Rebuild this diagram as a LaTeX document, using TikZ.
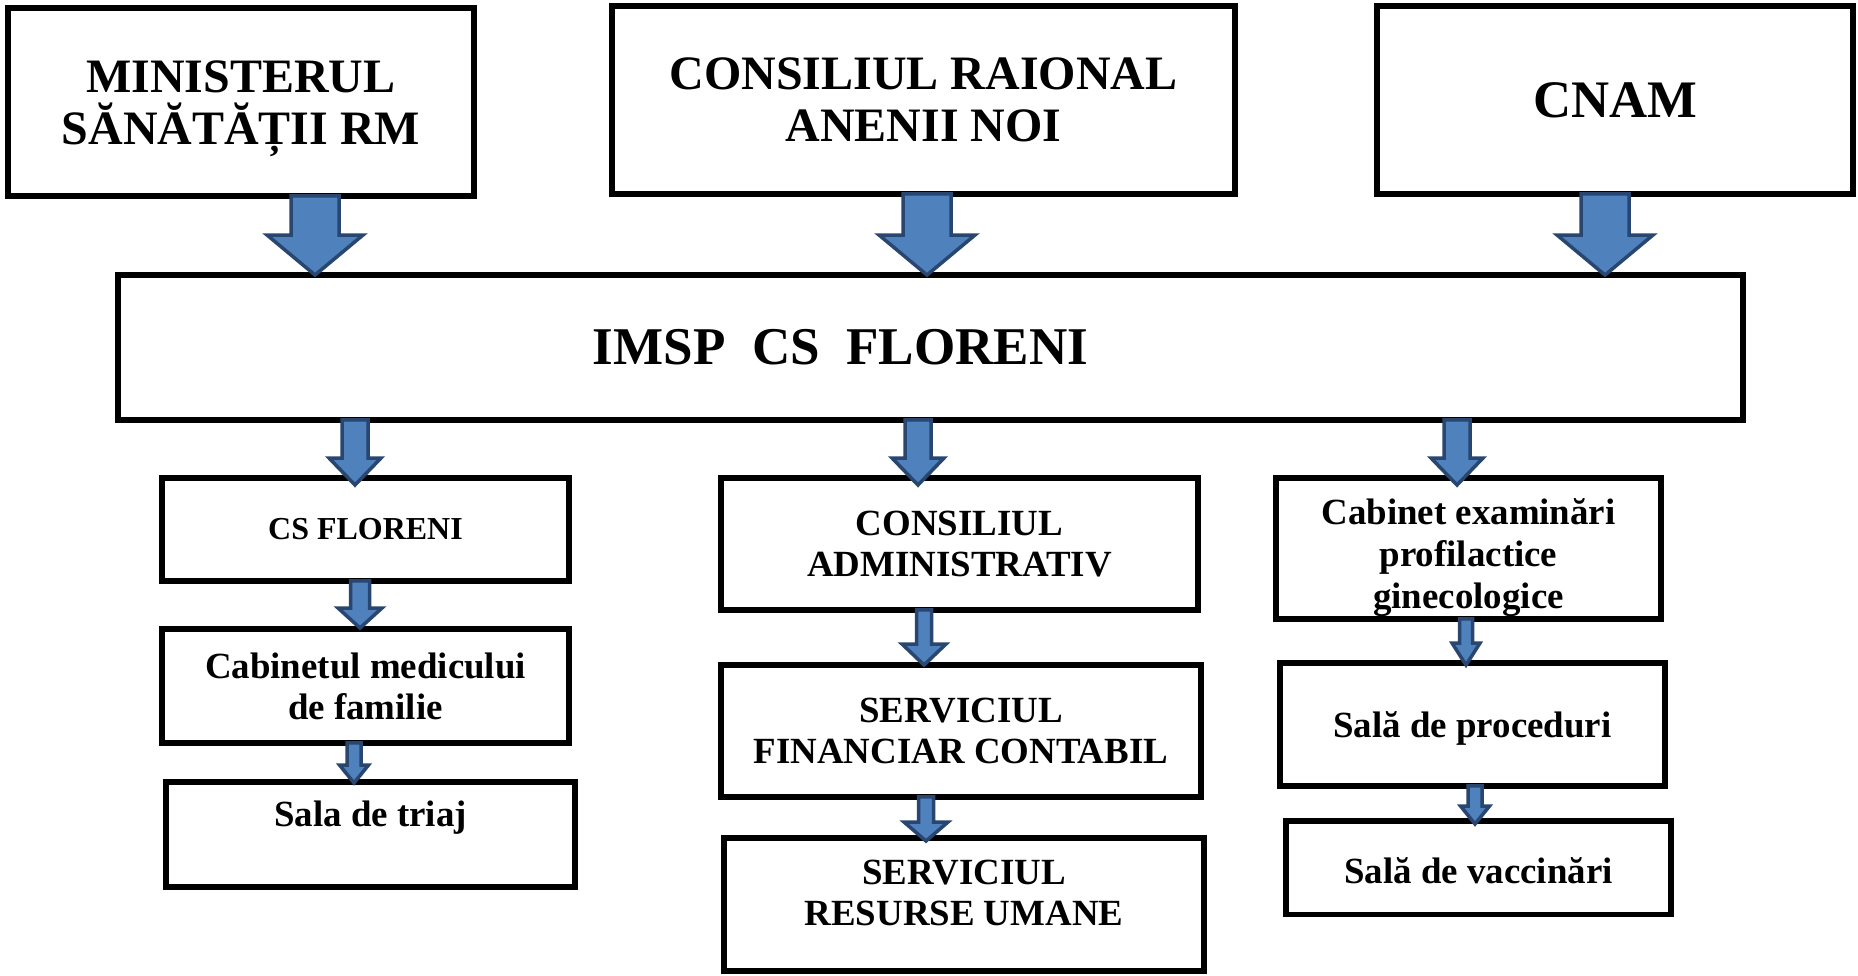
\documentclass[tikz,border=0pt]{standalone}
\usepackage{fontspec}
\setmainfont{Liberation Serif}
\usepackage{tikz}
\usetikzlibrary{calc}

\definecolor{arrowblue}{RGB}{79,129,189}
\definecolor{arrowline}{RGB}{40,70,112}

% block arrow: x, upper node, lower node, shaft half width, head half width, head length, overshoot
\newcommand{\blockarr}[7]{%
  \draw[blockarrow]
    ($(#2.south -| #1,0)+(-#4,-3)$) --
    ($(#3.north -| #1,0)+(-#4,#7-#6)$) --
    ($(#3.north -| #1,0)+(-#5,#7-#6)$) --
    ($(#3.north -| #1,0)+(0,#7)$) --
    ($(#3.north -| #1,0)+(#5,#7-#6)$) --
    ($(#3.north -| #1,0)+(#4,#7-#6)$) --
    ($(#2.south -| #1,0)+(#4,-3)$) -- cycle;}

\begin{document}
\begin{tikzpicture}[x=0.02cm, y=-0.02cm,
    box/.style={draw, line width=0.11cm, inner sep=0pt, align=center},
    topfont/.style={font=\fontsize{27.3}{29.6}\selectfont\bfseries},
    lowfont/.style={font=\fontsize{21}{23.3}\selectfont\bfseries},
    blockarrow/.style={fill=arrowblue, draw=arrowline, line width=0.07cm, line join=miter}]
  \useasboundingbox (0,0) rectangle (1858,976);

  % top level
  \node[box, topfont, minimum width=9.33cm, minimum height=3.77cm] (min) at (241,102) {\rule{0pt}{26pt}MINISTERUL\\SĂNĂTĂȚII RM};
  \node[box, topfont, minimum width=12.47cm, minimum height=3.77cm] (crn) at (923.5,100) {CONSILIUL RAIONAL\\ANENII NOI};
  \node[box, font=\fontsize{30}{32}\selectfont\bfseries, minimum width=9.53cm, minimum height=3.77cm] (cnam) at (1615,100) {CNAM};

  \node[box, font=\fontsize{30.2}{32}\selectfont\bfseries, minimum width=32.51cm, minimum height=2.91cm] (imsp) at (930.5,347.5) {IMSP\ \ CS\ \ FLORENI\hspace*{3.6cm}};

  % left column
  \node[box, font=\fontsize{18.2}{20}\selectfont\bfseries, minimum width=8.15cm, minimum height=2.07cm] (csf) at (365.5,529.5) {CS FLORENI};
  \node[box, lowfont, minimum width=8.15cm, minimum height=2.29cm] (cmf) at (365.5,686) {Cabinetul medicului\\de familie};
  \node[box, lowfont, text depth=24pt, minimum width=8.19cm, minimum height=2.11cm] (triaj) at (370.5,834.5) {Sala de triaj};

  % middle column
  \node[box, lowfont, minimum width=9.55cm, minimum height=2.65cm] (cadm) at (959.5,544) {CONSILIUL\\ADMINISTRATIV};
  \node[box, lowfont, minimum width=9.61cm, minimum height=2.65cm] (sfc) at (961,731) {SERVICIUL\\FINANCIAR CONTABIL};
  \node[box, lowfont, text depth=13.7pt, minimum width=9.61cm, minimum height=2.67cm] (sru) at (964,904.5) {SERVICIUL\\RESURSE UMANE};

  % right column
  \node[box, font=\fontsize{21}{23.8}\selectfont\bfseries, minimum width=7.71cm, minimum height=2.83cm] (cab) at (1468.5,548.5) {\rule{0pt}{25pt}Cabinet examinări\\profilactice\\ginecologice};
  \node[box, lowfont, minimum width=7.71cm, minimum height=2.47cm] (proc) at (1472.5,724.5) {\rule{0pt}{19pt}Sală de proceduri};
  \node[box, lowfont, minimum width=7.71cm, minimum height=1.87cm] (vacc) at (1478.5,867.5) {\rule{0pt}{18pt}Sală de vaccinări};

  % arrows
  \blockarr{315}{min}{imsp}{24}{48}{40}{3}
  \blockarr{927}{crn}{imsp}{24}{48}{40}{3}
  \blockarr{1605}{cnam}{imsp}{24}{48}{40}{3}

  \blockarr{355}{imsp}{csf}{13}{26}{27}{10}
  \blockarr{918}{imsp}{cadm}{13}{26}{27}{10}
  \blockarr{1457}{imsp}{cab}{13}{26}{27}{10}

  \blockarr{360}{csf}{cmf}{9.5}{22}{20}{2}
  \blockarr{354}{cmf}{triaj}{7}{14.5}{18}{4}
  \blockarr{924}{cadm}{sfc}{7.5}{22}{21}{3}
  \blockarr{926}{sfc}{sru}{7.5}{22}{19}{6}
  \blockarr{1466}{cab}{proc}{6.5}{14}{22}{5}
  \blockarr{1475}{proc}{vacc}{7}{14.5}{18}{6}
\end{tikzpicture}
\end{document}
